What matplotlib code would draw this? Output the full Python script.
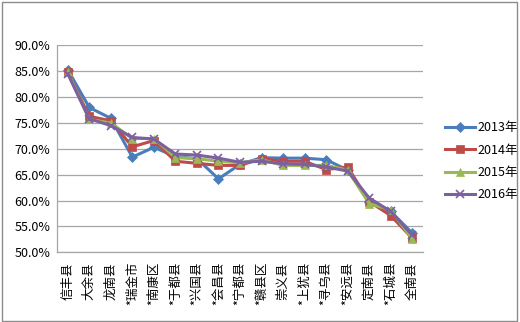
import matplotlib
matplotlib.use('Agg')
import matplotlib.pyplot as plt
from matplotlib.patches import Rectangle
from matplotlib.ticker import FuncFormatter

plt.rcParams['font.family'] = ['Noto Sans CJK SC', 'DejaVu Sans']

counties = ['信丰县', '大余县', '龙南县', '*瑞金市', '*南康区', '*于都县', '*兴国县',
            '*会昌县', '*宁都县', '*赣县区', '崇义县', '*上犹县', '*寻乌县', '*安远县',
            '定南县', '*石城县', '全南县']

y2013 = [85.3, 78.0, 75.9, 68.4, 70.3, 68.5, 68.1, 64.2, 67.0, 68.3, 68.2, 68.2, 67.9, 65.9, 59.8, 57.9, 53.7]
y2014 = [84.8, 76.3, 75.4, 70.4, 71.6, 67.6, 67.2, 66.8, 66.8, 68.1, 67.6, 67.6, 66.0, 66.5, 59.8, 57.1, 52.7]
y2015 = [84.8, 75.7, 75.0, 72.0, 72.0, 68.3, 68.1, 67.6, 67.3, 67.9, 66.8, 66.8, 66.8, 65.9, 59.4, 58.2, 52.5]
y2016 = [84.5, 75.8, 74.5, 72.2, 71.9, 69.0, 68.8, 68.2, 67.4, 67.6, 67.1, 67.0, 66.5, 65.7, 60.5, 57.9, 53.3]

series = [
    ('2013年', y2013, '#4A7EBB', 'D', 5),
    ('2014年', y2014, '#BE4B48', 's', 6),
    ('2015年', y2015, '#98B954', '^', 6),
    ('2016年', y2016, '#7D60A0', 'x', 6),
]

fig = plt.figure(figsize=(5.2, 3.22), dpi=100)
ax = fig.add_axes([0.1096, 0.2165, 0.7039, 0.6425])

x = range(len(counties))
for name, vals, color, marker, ms in series:
    ax.plot(x, vals, color=color, marker=marker, markersize=ms, linewidth=2.2,
            markeredgewidth=1.2 if marker == 'x' else 0.5, label=name)

ax.set_ylim(50, 90)
ax.set_xlim(-0.5, len(counties) - 0.5)
ax.set_yticks(range(50, 91, 5))
ax.yaxis.set_major_formatter(FuncFormatter(lambda v, p: f'{v:.1f}%'))
ax.set_xticks(list(x))
ax.set_xticklabels(counties, rotation=90, fontsize=9)
ax.tick_params(axis='y', labelsize=9, length=0, pad=5)
ax.tick_params(axis='x', length=0, pad=7)
ax.grid(axis='y', color='#a6a6a6', linewidth=0.9)
ax.set_axisbelow(True)
for s in ['top', 'right']:
    ax.spines[s].set_visible(False)
for s in ['left', 'bottom']:
    ax.spines[s].set_color('#a6a6a6')
    ax.spines[s].set_linewidth(0.9)

ax.legend(loc='center left', bbox_to_anchor=(1.03, 0.44), frameon=False, fontsize=9,
          handlelength=2.4, handletextpad=0.2, labelspacing=0.75)

fig.patches.append(Rectangle((0.003, 0.004), 0.992, 0.99, transform=fig.transFigure,
                             fill=False, edgecolor='#8c8c8c', linewidth=1.0))

fig.savefig('out.png', dpi=100)
